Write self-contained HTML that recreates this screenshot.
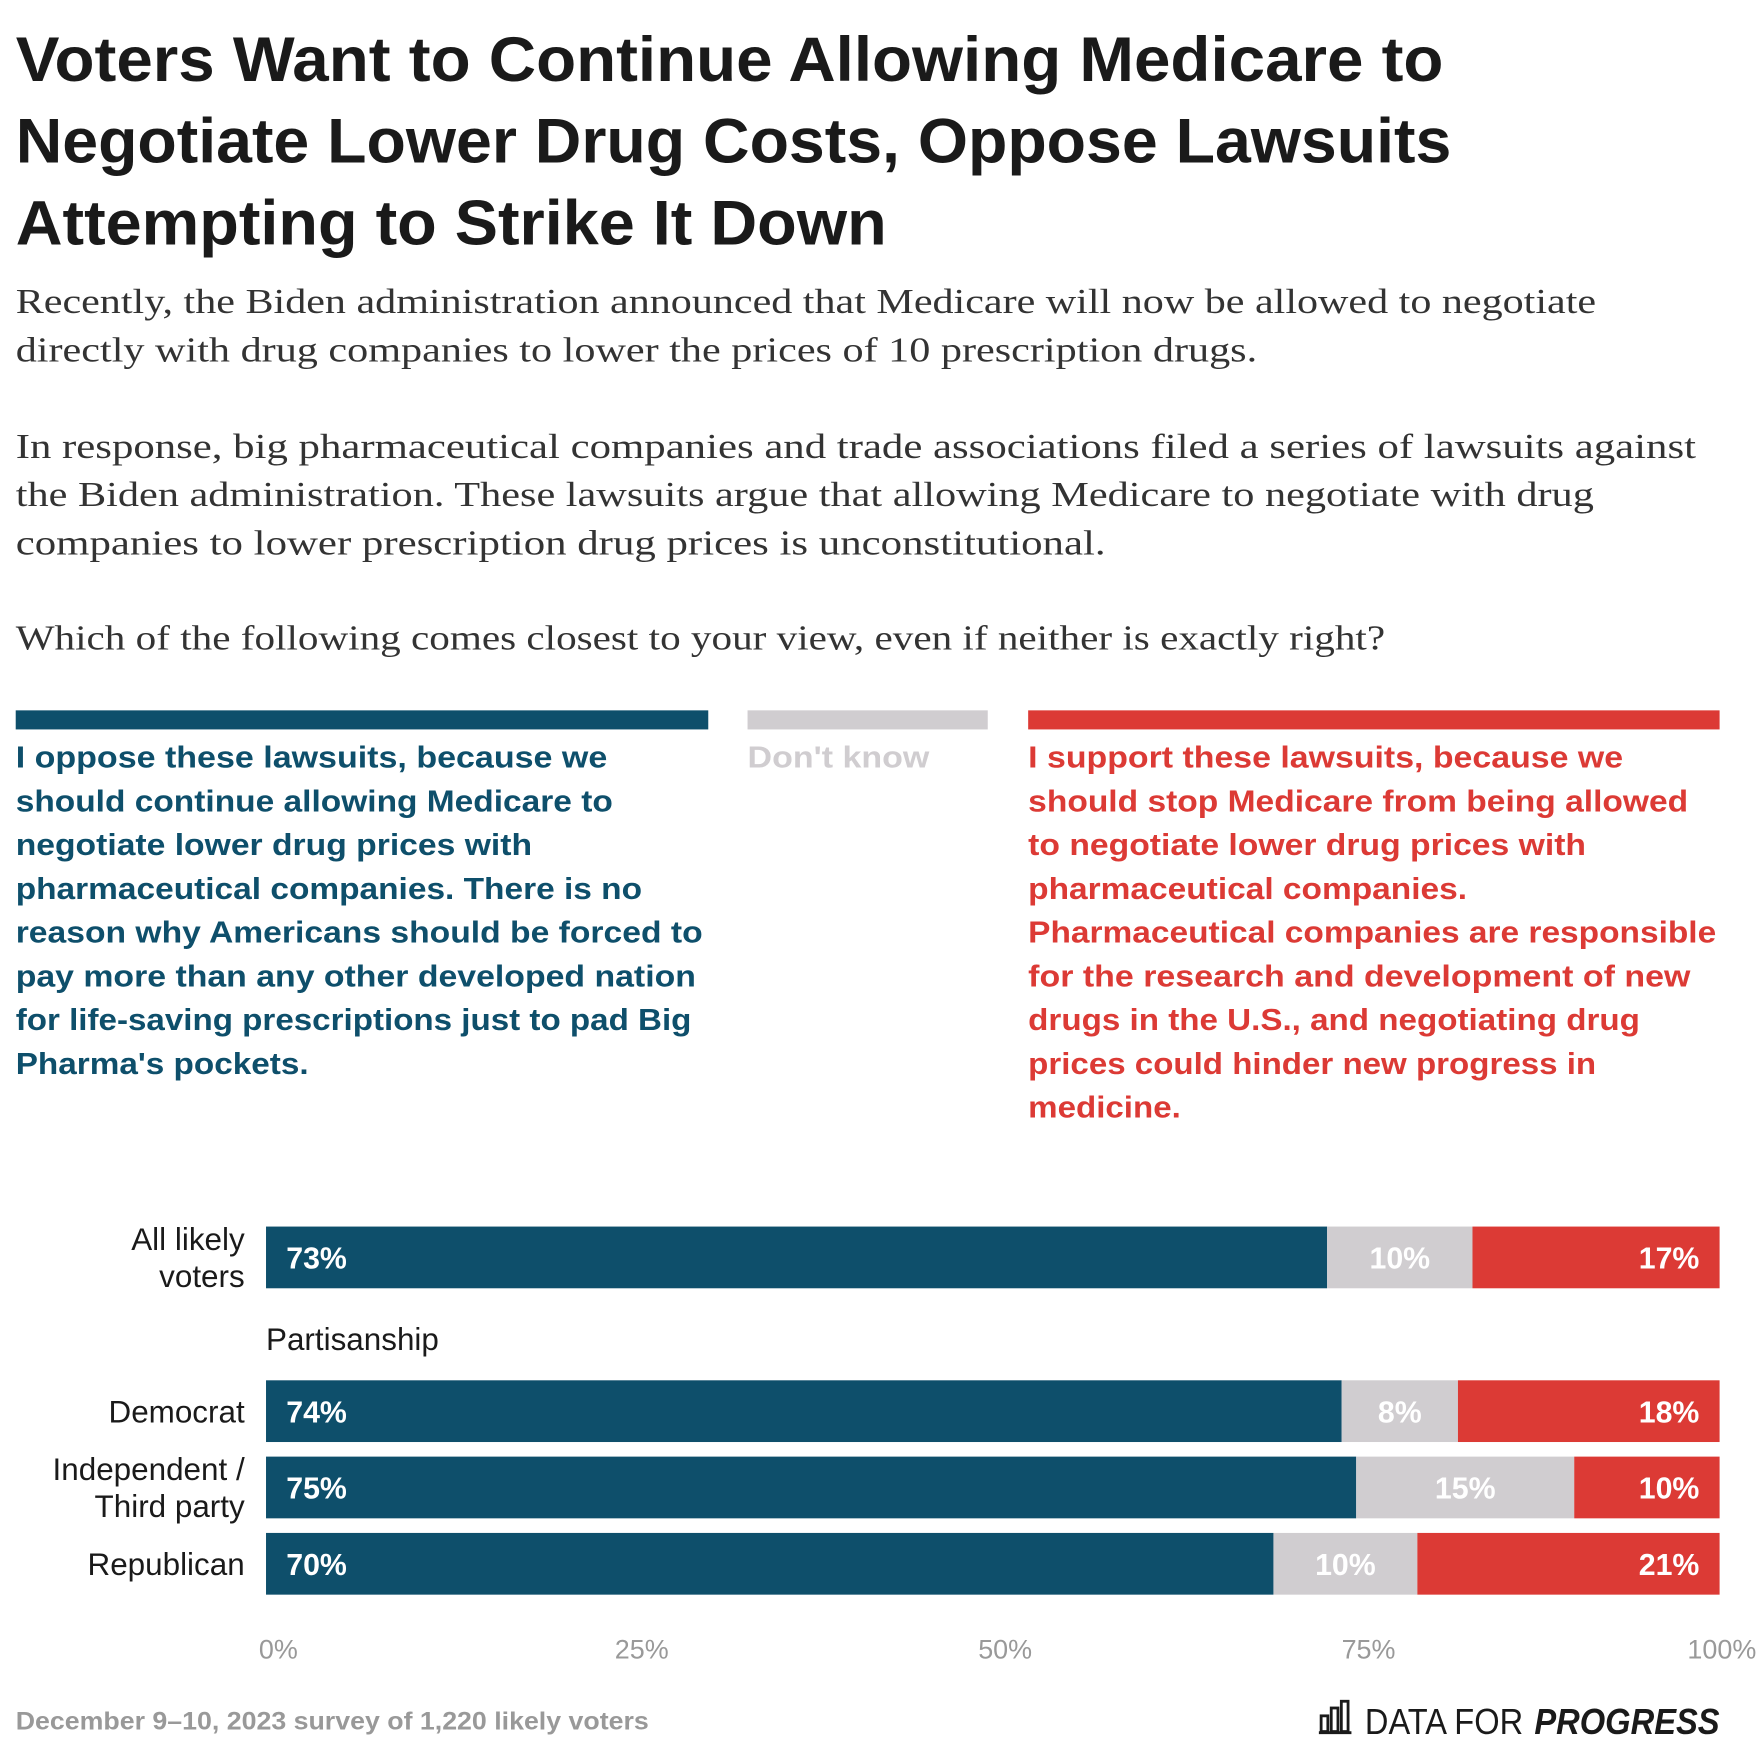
<!DOCTYPE html>
<html><head><meta charset="utf-8"><style>
html,body{margin:0;padding:0;background:#fff;}
svg{display:block;}
.t{font-family:"Liberation Sans",sans-serif;font-weight:bold;fill:#1a1a1a;font-size:56px;}
.b{font-family:"Liberation Serif",serif;fill:#333;font-size:31px;}
.lg{font-family:"Liberation Sans",sans-serif;font-weight:bold;font-size:27px;}
.rl{font-family:"Liberation Sans",sans-serif;font-size:28px;fill:#1a1a1a;}
.vl{font-family:"Liberation Sans",sans-serif;font-weight:bold;font-size:27px;fill:#fff;}
.ax{font-family:"Liberation Sans",sans-serif;font-size:24px;fill:#999;}
</style></head><body>
<svg id="chart" width="1760" height="1754" viewBox="0 0 1568 1563" preserveAspectRatio="none">
<g>
<text class="t" x="14" y="72" textLength="1272" lengthAdjust="spacingAndGlyphs">Voters Want to Continue Allowing Medicare to</text>
<text class="t" x="14" y="145" textLength="1279" lengthAdjust="spacingAndGlyphs">Negotiate Lower Drug Costs, Oppose Lawsuits</text>
<text class="t" x="14" y="218" textLength="776" lengthAdjust="spacingAndGlyphs">Attempting to Strike It Down</text>
</g>
<g>
<text class="b" x="14" y="279" textLength="1408" lengthAdjust="spacingAndGlyphs">Recently, the Biden administration announced that Medicare will now be allowed to negotiate</text>
<text class="b" x="14" y="322" textLength="1106" lengthAdjust="spacingAndGlyphs">directly with drug companies to lower the prices of 10 prescription drugs.</text>
<text class="b" x="14" y="408" textLength="1497" lengthAdjust="spacingAndGlyphs">In response, big pharmaceutical companies and trade associations filed a series of lawsuits against</text>
<text class="b" x="14" y="451" textLength="1406" lengthAdjust="spacingAndGlyphs">the Biden administration. These lawsuits argue that allowing Medicare to negotiate with drug</text>
<text class="b" x="14" y="494" textLength="971" lengthAdjust="spacingAndGlyphs">companies to lower prescription drug prices is unconstitutional.</text>
<text class="b" x="14" y="579" textLength="1220" lengthAdjust="spacingAndGlyphs">Which of the following comes closest to your view, even if neither is exactly right?</text>
</g>
<g>
<rect x="14" y="633" width="617" height="17" fill="#0e4f6b"/>
<rect x="666" y="633" width="214" height="17" fill="#d0cdd0"/>
<rect x="916" y="633" width="616" height="17" fill="#dc3a35"/>
<g class="lg" fill="#0e4f6b">
<text x="14" y="684" textLength="527" lengthAdjust="spacingAndGlyphs">I oppose these lawsuits, because we</text>
<text x="14" y="723" textLength="532" lengthAdjust="spacingAndGlyphs">should continue allowing Medicare to</text>
<text x="14" y="762" textLength="460" lengthAdjust="spacingAndGlyphs">negotiate lower drug prices with</text>
<text x="14" y="801" textLength="558" lengthAdjust="spacingAndGlyphs">pharmaceutical companies. There is no</text>
<text x="14" y="840" textLength="612" lengthAdjust="spacingAndGlyphs">reason why Americans should be forced to</text>
<text x="14" y="879" textLength="606" lengthAdjust="spacingAndGlyphs">pay more than any other developed nation</text>
<text x="14" y="918" textLength="602" lengthAdjust="spacingAndGlyphs">for life-saving prescriptions just to pad Big</text>
<text x="14" y="957" textLength="261" lengthAdjust="spacingAndGlyphs">Pharma's pockets.</text>
</g>
<text class="lg" fill="#d0cdd0" x="666" y="684" textLength="162" lengthAdjust="spacingAndGlyphs">Don't know</text>
<g class="lg" fill="#dc3a35">
<text x="916" y="684" textLength="530" lengthAdjust="spacingAndGlyphs">I support these lawsuits, because we</text>
<text x="916" y="723" textLength="588" lengthAdjust="spacingAndGlyphs">should stop Medicare from being allowed</text>
<text x="916" y="762" textLength="497" lengthAdjust="spacingAndGlyphs">to negotiate lower drug prices with</text>
<text x="916" y="801" textLength="391" lengthAdjust="spacingAndGlyphs">pharmaceutical companies.</text>
<text x="916" y="840" textLength="613" lengthAdjust="spacingAndGlyphs">Pharmaceutical companies are responsible</text>
<text x="916" y="879" textLength="590" lengthAdjust="spacingAndGlyphs">for the research and development of new</text>
<text x="916" y="918" textLength="545" lengthAdjust="spacingAndGlyphs">drugs in the U.S., and negotiating drug</text>
<text x="916" y="957" textLength="506" lengthAdjust="spacingAndGlyphs">prices could hinder new progress in</text>
<text x="916" y="996" textLength="136" lengthAdjust="spacingAndGlyphs">medicine.</text>
</g>
</g>
<text class="rl" x="237" y="1203" font-size="25">Partisanship</text>
<g id="bars"></g>
<g id="axis"></g>
<text x="14" y="1541" font-family="Liberation Sans, sans-serif" font-weight="bold" font-size="22" fill="#999" textLength="564" lengthAdjust="spacingAndGlyphs">December 9–10, 2023 survey of 1,220 likely voters</text>
<g>
<g fill="none" stroke="#1a1a1a" stroke-width="2.5">
<rect x="1177" y="1529" width="6" height="14"/><rect x="1186" y="1522" width="6" height="21"/><rect x="1195" y="1516" width="6" height="27"/>
<line x1="1175" y1="1544" x2="1204" y2="1544"/></g>
<text x="1216" y="1545" font-family="Liberation Sans, sans-serif" font-size="32" fill="#1a1a1a" textLength="141" lengthAdjust="spacingAndGlyphs">DATA FOR</text>
<text x="1367" y="1545" font-family="Liberation Sans, sans-serif" font-weight="bold" font-style="italic" font-size="32" fill="#1a1a1a" textLength="165" lengthAdjust="spacingAndGlyphs">PROGRESS</text>
</g>
</svg>
<script>
const categories = ["All likely voters", "Democrat", "Independent / Third party", "Republican"];
const opposeVals = [73, 74, 75, 70];
const dontKnowVals = [10, 8, 15, 10];
const supportVals = [17, 18, 10, 21];
const tickVals = [0, 25, 50, 75, 100];
const tickLabels = ["0%", "25%", "50%", "75%", "100%"];

const NS = "http://www.w3.org/2000/svg";
const X0 = 237, X1 = 1532, BH = 55;
const rowTops = [1093, 1230, 1298, 1366];
const labelLines = [["All likely", "voters"], ["Democrat"], ["Independent /", "Third party"], ["Republican"]];
const xScale = v => X0 + (X1 - X0) * v / 100;
function mk(tag, attrs, parent) {
  const e = document.createElementNS(NS, tag);
  for (const k in attrs) e.setAttribute(k, attrs[k]);
  parent.appendChild(e);
  return e;
}
const bars = document.getElementById("bars");
const colors = ["#0e4f6b", "#d0cdd0", "#dc3a35"];
const segNames = ["oppose", "dont-know", "support"];
categories.forEach((cat, i) => {
  const vals = [opposeVals[i], dontKnowVals[i], supportVals[i]];
  const tot = vals[0] + vals[1] + vals[2];
  const y = rowTops[i];
  let cum = 0;
  vals.forEach((v, j) => {
    const xa = xScale(cum / tot * 100), xb = xScale((cum + v) / tot * 100);
    const r = mk("rect", {x: xa, y: y, width: xb - xa, height: BH, fill: colors[j]}, bars);
    
    
    let tx, anchor;
    if (j === 0) { tx = X0 + 18; anchor = "start"; }
    else if (j === 1) { tx = (xa + xb) / 2; anchor = "middle"; }
    else { tx = X1 - 18; anchor = "end"; }
    const t = mk("text", {x: tx, y: y + BH / 2 + 10, "text-anchor": anchor, class: "vl"}, bars);
    t.textContent = v + "%";
    
    
    cum += v;
  });
  const lines = labelLines[i];
  const cy = y + BH / 2;
  lines.forEach((ln, k) => {
    const ly = cy + 10 + (k - (lines.length - 1) / 2) * 33;
    const t = mk("text", {x: 218, y: ly, "text-anchor": "end", class: "rl"}, bars);
    t.textContent = ln;
    
    
  });
});
const axis = document.getElementById("axis");
tickVals.forEach((v, i) => {
  const t = mk("text", {x: Math.min(xScale(v) + 11, 1534), y: 1478, "text-anchor": "middle", class: "ax"}, axis);
  t.textContent = tickLabels[i];
  
  
});
</script>
</body></html>
